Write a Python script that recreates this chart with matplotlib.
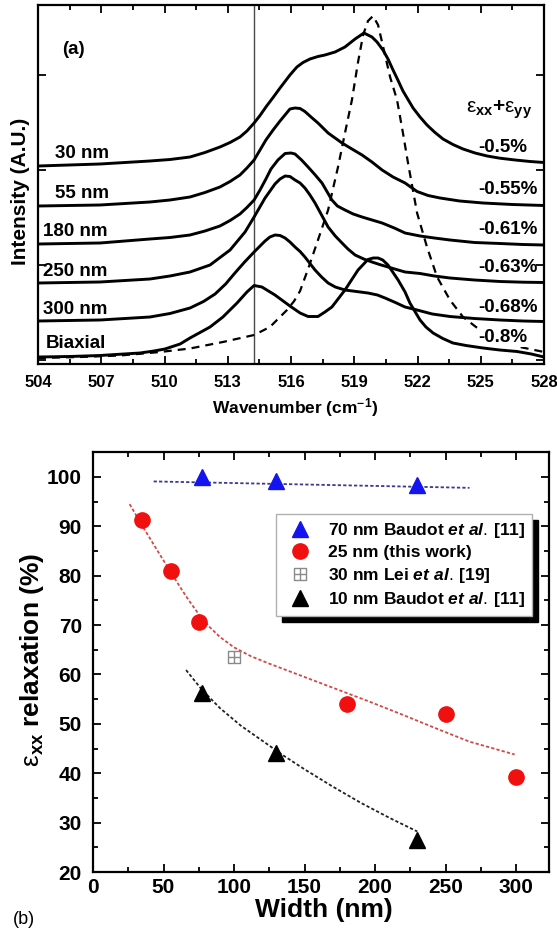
import numpy as np
import matplotlib
matplotlib.use("Agg")
import matplotlib.pyplot as plt
from matplotlib.path import Path
from matplotlib.ticker import MultipleLocator, FixedLocator, NullFormatter

plt.rcParams['font.family'] = ['Liberation Sans', 'DejaVu Sans']
plt.rcParams['mathtext.fontset'] = 'custom'
plt.rcParams['mathtext.rm'] = 'Liberation Sans'
plt.rcParams['mathtext.bf'] = 'Liberation Sans:bold'
plt.rcParams['mathtext.it'] = 'Liberation Sans:bold:italic'

# ---------------- panel (a): Raman spectra (offset, arbitrary units) ----------------
wn_30 = [504.00, 506.94, 509.31, 510.26, 511.21, 511.92, 512.63, 513.11, 513.58, 513.91,
         514.25, 514.53, 514.81, 515.15, 515.48, 515.95, 516.28, 516.57, 516.90, 517.28,
         517.61, 518.09, 518.56, 518.80, 519.04, 519.46, 519.84, 520.08, 520.36, 520.60,
         520.84, 521.08, 521.31, 521.79, 522.12, 522.45, 522.83, 523.21, 523.68, 524.16,
         524.73, 525.30, 525.91, 526.63, 527.34, 528.00]
int_30 = [1.98, 2.00, 2.03, 2.045, 2.07, 2.115, 2.17, 2.215, 2.27, 2.33,
          2.41, 2.485, 2.57, 2.665, 2.76, 2.89, 2.97, 3.015, 3.05, 3.075,
          3.09, 3.12, 3.17, 3.21, 3.25, 3.31, 3.27, 3.22, 3.14, 3.05,
          2.94, 2.835, 2.73, 2.56, 2.47, 2.39, 2.315, 2.25, 2.195, 2.15,
          2.11, 2.08, 2.058, 2.04, 2.025, 2.015]

wn_55 = [504.00, 506.94, 509.31, 510.26, 511.21, 511.92, 512.63, 513.11, 513.58, 513.91,
         514.25, 514.53, 514.81, 515.15, 515.48, 515.95, 516.19, 516.43, 516.66, 516.95,
         517.28, 517.76, 518.09, 518.42, 518.89, 519.37, 519.84, 520.32, 520.84, 521.41,
         521.98, 522.50, 523.07, 524.00, 525.11, 526.50, 528.00]
int_55 = [1.58, 1.59, 1.62, 1.64, 1.67, 1.715, 1.77, 1.825, 1.89, 1.96,
          2.04, 2.14, 2.24, 2.34, 2.43, 2.55, 2.56, 2.555, 2.525, 2.47,
          2.41, 2.31, 2.26, 2.21, 2.15, 2.09, 2.02, 1.94, 1.87, 1.81,
          1.725, 1.685, 1.66, 1.63, 1.61, 1.595, 1.585]

wn_180 = [504.00, 506.94, 509.31, 510.26, 511.21, 511.92, 512.63, 513.11, 513.58, 513.91,
          514.25, 514.53, 514.81, 515.05, 515.38, 515.72, 516.00, 516.19, 516.50, 516.81,
          517.15, 517.47, 517.94, 518.20, 518.56, 518.95, 519.37, 520.32, 520.90, 521.41,
          522.12, 522.80, 523.54, 524.70, 525.91, 527.00, 528.00]
int_180 = [1.20, 1.21, 1.25, 1.265, 1.29, 1.33, 1.38, 1.435, 1.50, 1.565,
           1.64, 1.74, 1.85, 1.95, 2.04, 2.105, 2.11, 2.10, 2.04, 1.97,
           1.89, 1.81, 1.64, 1.58, 1.54, 1.50, 1.47, 1.41, 1.36, 1.31,
           1.28, 1.26, 1.24, 1.215, 1.205, 1.195, 1.19]

wn_250 = [504.00, 506.94, 509.31, 510.26, 511.21, 512.16, 513.11, 513.82, 514.25, 514.77,
          515.24, 515.48, 515.72, 515.95, 516.19, 516.43, 516.66, 516.90, 517.14, 517.45,
          517.76, 518.10, 518.42, 518.70, 519.04, 519.45, 519.84, 520.20, 520.60, 521.00,
          521.41, 522.12, 522.80, 523.54, 524.70, 525.91, 527.00, 528.00]
int_250 = [0.81, 0.82, 0.85, 0.88, 0.92, 0.99, 1.14, 1.32, 1.47, 1.66,
           1.80, 1.85, 1.88, 1.875, 1.84, 1.81, 1.76, 1.69, 1.61, 1.49,
           1.37, 1.28, 1.21, 1.15, 1.09, 1.05, 1.02, 0.995, 0.97, 0.945,
           0.92, 0.905, 0.88, 0.86, 0.84, 0.825, 0.818, 0.815]

wn_300 = [504.00, 506.94, 509.31, 510.26, 511.21, 511.85, 512.40, 512.90, 513.34, 513.80,
          514.25, 514.77, 515.00, 515.24, 515.48, 515.72, 515.95, 516.19, 516.43, 516.66,
          516.90, 517.14, 517.45, 517.76, 518.10, 518.56, 519.10, 519.65, 520.10, 520.46,
          520.95, 521.41, 521.98, 522.70, 523.54, 524.70, 525.91, 527.00, 528.00]
int_300 = [0.43, 0.44, 0.47, 0.505, 0.56, 0.625, 0.70, 0.80, 0.91, 1.02,
           1.12, 1.23, 1.27, 1.29, 1.285, 1.26, 1.22, 1.17, 1.125, 1.07,
           1.005, 0.94, 0.87, 0.81, 0.77, 0.74, 0.725, 0.71, 0.69, 0.66,
           0.615, 0.57, 0.54, 0.50, 0.475, 0.455, 0.44, 0.43, 0.425]

wn_biax = [504.00, 505.50, 506.94, 508.84, 509.50, 510.02, 510.74, 511.21, 512.16, 512.77,
           513.44, 513.91, 514.25, 514.62, 515.24, 515.95, 516.43, 516.81, 517.28, 517.61,
           517.94, 518.56, 519.18, 519.65, 519.90, 520.13, 520.35, 520.60, 521.08, 521.41,
           521.64, 522.12, 522.40, 522.74, 523.20, 523.68, 524.30, 525.11, 525.90, 526.72,
           527.40, 528.00]
int_biax = [0.07, 0.075, 0.085, 0.11, 0.13, 0.15, 0.20, 0.26, 0.37, 0.47,
            0.61, 0.72, 0.785, 0.77, 0.69, 0.58, 0.51, 0.475, 0.475, 0.52,
            0.57, 0.74, 0.94, 1.045, 1.06, 1.06, 1.04, 0.99, 0.84, 0.72,
            0.61, 0.44, 0.37, 0.31, 0.255, 0.21, 0.185, 0.16, 0.14, 0.125,
            0.10, 0.07]

wn_ref = [504.00, 505.99, 507.89, 509.79, 511.21, 512.77, 514.25, 515.00, 515.81, 516.15,
          516.43, 516.81, 517.28, 517.76, 518.23, 518.56, 518.89, 519.18, 519.42, 519.65,
          519.89, 520.13, 520.46, 520.70, 521.03, 521.31, 521.55, 521.98, 522.45, 522.93,
          523.54, 524.16, 524.96, 525.91, 526.86, 528.00]
int_ref = [0.06, 0.07, 0.085, 0.12, 0.155, 0.22, 0.29, 0.37, 0.54, 0.63,
           0.73, 0.95, 1.24, 1.54, 1.97, 2.31, 2.64, 3.02, 3.29, 3.43,
           3.48, 3.39, 3.09, 2.87, 2.64, 2.31, 2.01, 1.51, 1.17, 0.87,
           0.64, 0.47, 0.34, 0.24, 0.17, 0.12]

si_line = 514.25

width_labels = ['30 nm', '55 nm', '180 nm', '250 nm', '300 nm', 'Biaxial']
strain_labels = ['-0.5%', '-0.55%', '-0.61%', '-0.63%', '-0.68%', '-0.8%']

# ---------------- panel (b): relaxation vs width ----------------
w70 = [77, 130, 230]
r70 = [100.0, 99.2, 98.4]
fit70_w = [43, 267]
fit70_r = [99.1, 97.8]

w25 = [35, 55, 75, 180, 250, 300]
r25 = [91.2, 81.0, 70.6, 54.0, 52.0, 39.3]
fit25_w = [26, 35, 45, 55, 62, 68, 75, 82, 90, 100, 112, 125, 149, 173, 197, 220, 244, 267, 299]
fit25_r = [94.5, 90.1, 85.4, 80.8, 77.6, 75.0, 72.2, 69.8, 67.6, 65.5, 63.7, 62.2, 59.6,
           57.0, 54.4, 51.8, 49.0, 46.4, 43.8]

w30 = [100]
r30 = [63.6]

w10 = [77, 130, 230]
r10 = [56.3, 44.1, 26.4]
fit10_w = [66, 77, 90, 105, 120, 135, 150, 170, 190, 210, 230]
fit10_r = [60.9, 57.0, 53.2, 49.6, 46.6, 43.6, 40.8, 37.3, 34.0, 31.0, 28.2]

W, H = 557, 935
fig = plt.figure(figsize=(W / 100, H / 100), dpi=100)


def fx(px):
    return px / W


def fy(py):
    return 1 - py / H


# ===== panel (a) =====
ax1 = fig.add_axes([fx(38), fy(364), (544 - 38) / W, (364 - 5) / H])
ax1.set_xlim(504, 528)
ax1.set_ylim(0, 3.59)

ax1.axvline(si_line, color='#4a4a4a', lw=1.0, zorder=1)
for wn, it in [(wn_30, int_30), (wn_55, int_55), (wn_180, int_180),
               (wn_250, int_250), (wn_300, int_300), (wn_biax, int_biax)]:
    ax1.plot(wn, it, color='black', lw=2.1, solid_joinstyle='round',
             solid_capstyle='round', zorder=3)
ax1.plot(wn_ref, int_ref, color='black', lw=1.6, dashes=(3.6, 2.7), zorder=2)

ax1.xaxis.set_major_locator(MultipleLocator(3))
ax1.xaxis.set_minor_locator(MultipleLocator(1.5))
ax1.yaxis.set_major_locator(FixedLocator([0.04, 0.99, 1.94, 2.89]))
ax1.yaxis.set_major_formatter(NullFormatter())
ax1.tick_params(which='both', direction='in', top=True, right=True, width=1.3)
ax1.tick_params(which='major', length=6)
ax1.tick_params(which='minor', length=3.5)
ax1.tick_params(axis='x', labelsize=12, pad=8)
for lab in ax1.get_xticklabels():
    lab.set_fontweight('bold')
for s in ax1.spines.values():
    s.set_linewidth(1.6)

lab_kw = dict(fontsize=13.5, fontweight='bold', va='center')
left_pos = [(504.81, 2.10), (504.81, 1.70), (504.24, 1.32), (504.24, 0.92),
            (504.24, 0.54), (504.38, 0.21)]
for (x, y), t in zip(left_pos, width_labels):
    ax1.text(x, y, t, ha='left', **lab_kw)
right_pos = [2.17, 1.74, 1.34, 0.97, 0.56, 0.26]
for y, t in zip(right_pos, strain_labels):
    txt = ax1.text(524.87, y, t, ha='left', zorder=2.5, **lab_kw)
    if t == '-0.8%':
        txt.set_bbox(dict(facecolor='white', edgecolor='none', pad=0.5))
ax1.text(525.87, 2.54, r'$\mathrm{ε}_{\mathbf{xx}}$+$\mathrm{ε}_{\mathbf{yy}}$',
         ha='center', fontsize=15, fontweight='bold', va='center')
ax1.text(505.14, 3.14, '(a)', ha='left', **lab_kw)

fig.text(fx(21), fy(191), 'Intensity (A.U.)', rotation=90, ha='center', va='center',
         fontsize=15, fontweight='bold')
fig.text(fx(295), fy(408), r'Wavenumber (cm$^{\mathbf{-1}}$)', ha='center', va='center',
         fontsize=12.5, fontweight='bold')

# ===== panel (b) =====
ax2 = fig.add_axes([fx(93), fy(872), (549 - 93) / W, (872 - 452) / H])
ax2.set_xlim(0, 323.4)
ax2.set_ylim(20, 105.06)

fit_kw = dict(lw=1.3, dashes=(1.8, 1.2), zorder=2)
ax2.plot(fit70_w, fit70_r, color='#3a3a90', **fit_kw)
ax2.plot(fit25_w, fit25_r, color='#d24848', **fit_kw)
ax2.plot(fit10_w, fit10_r, color='#222222', **fit_kw)

box_plus = Path([(-1, -1), (1, -1), (1, 1), (-1, 1), (-1, -1),
                 (0, -1), (0, 1), (-1, 0), (1, 0)],
                [Path.MOVETO, Path.LINETO, Path.LINETO, Path.LINETO, Path.CLOSEPOLY,
                 Path.MOVETO, Path.LINETO, Path.MOVETO, Path.LINETO])

ax2.plot(w70, r70, ls='none', marker='^', ms=11, color='#1414f0',
         label=r'70 nm Baudot $\mathit{et\ al.}\,$[11]', zorder=4)
ax2.plot(w25, r25, ls='none', marker='o', ms=11, color='#f01010',
         label='25 nm (this work)', zorder=4)
ax2.plot(w30, r30, ls='none', marker=box_plus, ms=9, mfc='none', mec='#8a8a8a', mew=1.0,
         label=r'30 nm Lei $\mathit{et\ al.}\,$[19]', zorder=4)
ax2.plot(w10, r10, ls='none', marker='^', ms=11, color='black',
         label=r'10 nm Baudot $\mathit{et\ al.}\,$[11]', zorder=4)

leg = ax2.legend(loc='upper left', bbox_to_anchor=(0.401, 0.852), borderaxespad=0,
                 prop={'weight': 'bold', 'size': 12.5}, frameon=True, fancybox=False,
                 framealpha=1, edgecolor='#b0b0b0', handlelength=2.0, handletextpad=0.6,
                 labelspacing=0.3, borderpad=0.4,
                 shadow={'ox': 4.3, 'oy': -4.3, 'facecolor': 'black',
                         'edgecolor': 'black', 'alpha': 1})
leg.get_frame().set_linewidth(1.0)

ax2.xaxis.set_major_locator(MultipleLocator(50))
ax2.xaxis.set_minor_locator(MultipleLocator(25))
ax2.yaxis.set_major_locator(MultipleLocator(10))
ax2.yaxis.set_minor_locator(MultipleLocator(5))
ax2.tick_params(which='both', direction='in', top=True, right=True, width=1.3)
ax2.tick_params(which='major', length=6)
ax2.tick_params(which='minor', length=3.5)
ax2.tick_params(axis='x', labelsize=15, pad=4)
ax2.tick_params(axis='y', labelsize=15, pad=8)
for lab in ax2.get_xticklabels() + ax2.get_yticklabels():
    lab.set_fontweight('bold')
for s in ax2.spines.values():
    s.set_linewidth(1.6)

fig.text(fx(32), fy(660), r'$\mathrm{ε}_{\mathbf{xx}}$ relaxation (%)', rotation=90,
         ha='center', va='center', fontsize=19, fontweight='bold')
fig.text(fx(324), fy(910), 'Width (nm)', ha='center', va='center',
         fontsize=19, fontweight='bold')
fig.text(fx(13), fy(920), '(b)', ha='left', va='center', fontsize=13)

fig.savefig('out.png', dpi=100, facecolor='white')
